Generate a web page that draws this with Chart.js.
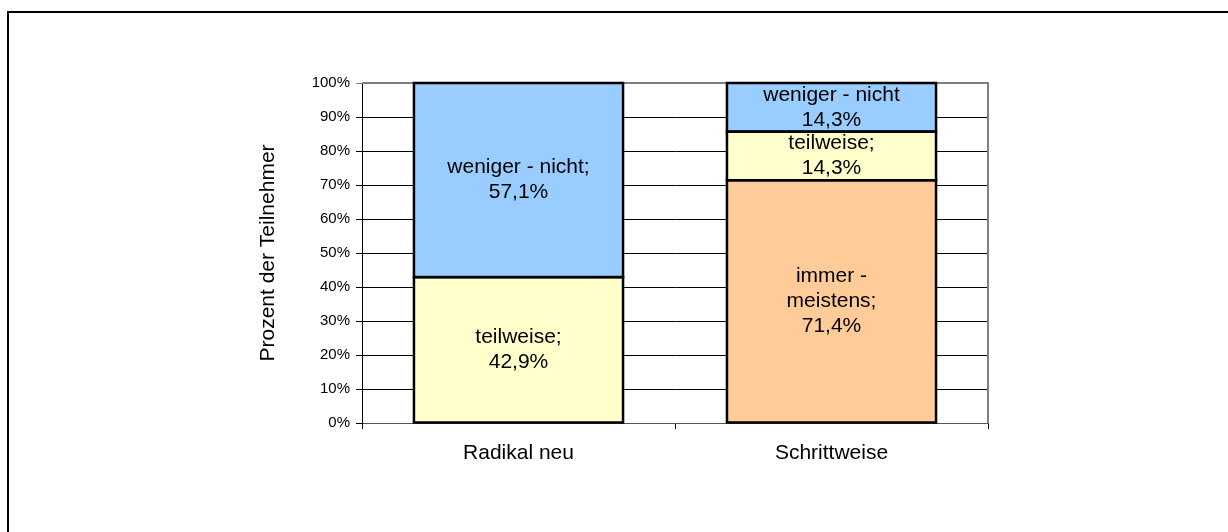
<!DOCTYPE html>
<html lang="de">
<head>
<meta charset="utf-8">
<title>Prozent der Teilnehmer</title>
<script src="https://cdn.jsdelivr.net/npm/chart.js@4.4.1/dist/chart.umd.min.js"></script>
<style>
  html, body { margin: 0; padding: 0; background: #fff; }
  #wrap { position: relative; width: 1228px; height: 532px; overflow: hidden; }
  #frame {
    position: absolute; left: 7px; top: 11px;
    width: 1300px; height: 600px;
    border: 2px solid #000;
    pointer-events: none;
  }
  canvas { position: absolute; left: 0; top: 0; }
</style>
</head>
<body>
<div id="wrap">
  <canvas id="chart" width="1228" height="532"></canvas>
  <div id="frame"></div>
</div>
<script>
// Kategorien und Anteile (in Prozent)
const categories = ['Radikal neu', 'Schrittweise'];
const seriesNames = ['immer - meistens', 'teilweise', 'weniger - nicht'];
const immerMeistens = [0, 71.4];
const teilweise = [42.9, 14.3];
const wenigerNicht = [57.1, 14.3];
const yTicks = [0, 10, 20, 30, 40, 50, 60, 70, 80, 90, 100];

// Beschriftungstexte je Segment (Zeilen vor dem Wert)
const immerLabels = [[], ['immer -', 'meistens;']];
const teilweiseLabels = [['teilweise;'], ['teilweise;']];
const wenigerLabels = [['weniger - nicht;'], ['weniger - nicht']];

const FONT = '"Liberation Sans", Arial, Helvetica, sans-serif';

const fmt = v => v.toFixed(1).replace('.', ',') + '%';

// schwarze Kanten mittig auf den Segmentgrenzen, danach die Werte
const segmentLabels = {
  id: 'segmentLabels',
  afterDatasetsDraw(chart) {
    const ctx = chart.ctx;
    ctx.save();
    ctx.strokeStyle = '#000';
    ctx.lineWidth = 2.5;
    chart.data.datasets.forEach((ds, di) => {
      chart.getDatasetMeta(di).data.forEach((bar, i) => {
        if (!ds.data[i]) return;
        ctx.strokeRect(bar.x - bar.width / 2, bar.y, bar.width, bar.base - bar.y);
      });
    });

    ctx.font = '21px ' + FONT;
    ctx.fillStyle = '#000';
    ctx.textAlign = 'center';
    ctx.textBaseline = 'middle';
    const lineH = 25;
    chart.data.datasets.forEach((ds, di) => {
      chart.getDatasetMeta(di).data.forEach((bar, i) => {
        const v = ds.data[i];
        if (!v) return;
        const lines = ds.labelLines[i].concat([fmt(v)]);
        const cy = (bar.y + bar.base) / 2;
        const y0 = cy - (lines.length - 1) * lineH / 2;
        lines.forEach((t, k) => ctx.fillText(t, bar.x, y0 + k * lineH));
      });
    });
    ctx.restore();
  }
};

// graue Umrandung oben/rechts der Zeichenfläche
const plotFrame = {
  id: 'plotFrame',
  beforeDatasetsDraw(chart) {
    const { ctx, chartArea: a } = chart;
    ctx.save();
    ctx.strokeStyle = '#808080';
    ctx.lineWidth = 2;
    ctx.beginPath();
    ctx.moveTo(a.left, a.top);
    ctx.lineTo(a.right, a.top);
    ctx.lineTo(a.right, a.bottom);
    ctx.stroke();
    ctx.restore();
  }
};

const barStyle = {
  borderWidth: 0,
  categoryPercentage: 1,
  barPercentage: 0.668
};

new Chart(document.getElementById('chart'), {
  type: 'bar',
  data: {
    labels: categories,
    datasets: [
      Object.assign({ label: seriesNames[0], data: immerMeistens, backgroundColor: '#FFCC99', labelLines: immerLabels }, barStyle),
      Object.assign({ label: seriesNames[1], data: teilweise, backgroundColor: '#FFFFCC', labelLines: teilweiseLabels }, barStyle),
      Object.assign({ label: seriesNames[2], data: wenigerNicht, backgroundColor: '#99CCFF', labelLines: wenigerLabels }, barStyle)
    ]
  },
  options: {
    responsive: false,
    animation: false,
    devicePixelRatio: 1,
    layout: { padding: { left: 240, right: 240, top: 83, bottom: 49 } },
    plugins: {
      legend: { display: false },
      tooltip: { enabled: false }
    },
    scales: {
      x: {
        stacked: true,
        afterFit(scale) { scale.height = 60; },
        grid: {
          offset: true,
          drawOnChartArea: false,
          drawTicks: true,
          tickLength: 6,
          color: '#000'
        },
        border: { color: '#555', width: 1 },
        ticks: { color: '#000', padding: 12, font: { family: FONT, size: 21 } }
      },
      y: {
        stacked: true,
        min: 0,
        max: 100,
        afterFit(scale) { scale.width = 122; },
        afterBuildTicks(scale) { scale.ticks = yTicks.map(v => ({ value: v })); },
        grid: {
          tickLength: 6,
          lineWidth: 1,
          color: c => (c.tick && c.tick.value === 100 ? '#808080' : '#000')
        },
        border: { color: '#000', width: 1 },
        ticks: {
          color: '#000',
          padding: 6,
          font: { family: FONT, size: 15 },
          callback: v => v + '%'
        },
        title: {
          display: true,
          text: 'Prozent der Teilnehmer',
          color: '#000',
          font: { family: FONT, size: 21 },
          padding: { top: 16, bottom: 0 }
        }
      }
    }
  },
  plugins: [plotFrame, segmentLabels]
});
</script>
</body>
</html>
